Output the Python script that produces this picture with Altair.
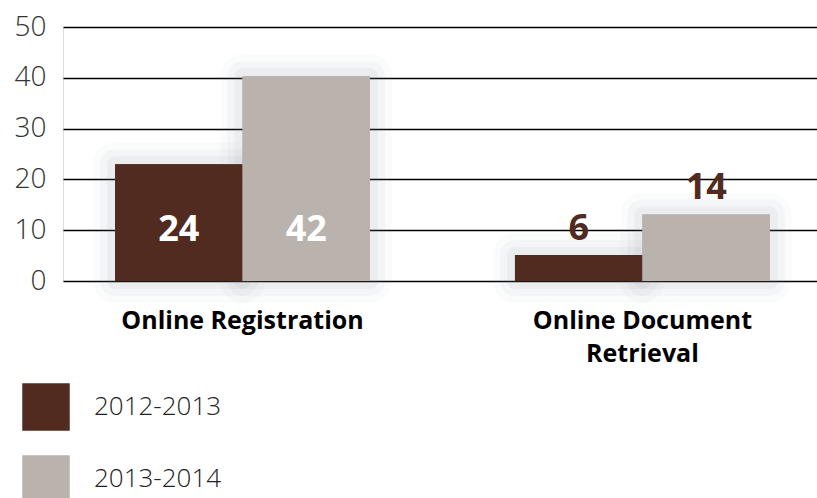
import altair as alt
import pandas as pd

categories = ["Online Registration", "Online Document Retrieval"]
periods = ["2012-2013", "2013-2014"]
values_2012 = [23.0, 5.1]
values_2013 = [40.3, 13.1]
labels_2012 = ["24", "6"]
labels_2013 = ["42", "14"]
colors = ["#512b1f", "#bab2ad"]

rows = []
for i, c in enumerate(categories):
    rows.append({"category": c, "period": periods[0], "value": values_2012[i], "label": labels_2012[i]})
    rows.append({"category": c, "period": periods[1], "value": values_2013[i], "label": labels_2013[i]})
df = pd.DataFrame(rows)

FONT = "Open Sans"

x_scale = alt.Scale(paddingInner=0.3625, paddingOuter=0.124, align=0.525)
x_enc = alt.X(
    "category:N",
    sort=categories,
    scale=x_scale,
    axis=alt.Axis(
        title=None,
        labelAngle=0,
        domain=False,
        ticks=False,
        labelFont=FONT,
        labelFontWeight="bold",
        labelFontSize=25,
        labelColor="#000000",
        labelPadding=27,
        labelLineHeight=33,
        labelBaseline="top",
        labelLimit=0,
        labelExpr="datum.label == 'Online Document Retrieval' ? ['Online Document', 'Retrieval'] : datum.label",
    ),
)
xoff = alt.XOffset("period:N", sort=periods, scale=alt.Scale(paddingInner=0, paddingOuter=0))
x_plain = alt.X("category:N", sort=categories)

y_enc = alt.Y(
    "value:Q",
    scale=alt.Scale(domain=[0, 50], nice=False),
    axis=alt.Axis(
        title=None,
        values=[0, 10, 20, 30, 40, 50],
        domain=False,
        ticks=False,
        grid=True,
        gridColor="#000000",
        gridWidth=1.3,
        labelFont=FONT,
        labelFontWeight=300,
        labelFontSize=28,
        labelColor="#333333",
        labelPadding=17,
    ),
)

base = alt.Chart(df)

halos = [
    base.mark_bar(fillOpacity=0, stroke="#8a8f96", strokeOpacity=op, strokeWidth=w, strokeJoin="round").encode(
        x=x_plain, xOffset=xoff, y=alt.Y("value:Q")
    )
    for w, op in [(44, 0.04), (30, 0.05), (16, 0.07)]
]

bars = base.mark_bar(opacity=1).encode(
    x=x_enc,
    xOffset=xoff,
    y=y_enc,
    color=alt.Color(
        "period:N",
        sort=periods,
        scale=alt.Scale(domain=periods, range=colors),
        legend=alt.Legend(
            title=None,
            orient="none",
            legendX=-41,
            legendY=356,
            direction="vertical",
            symbolType="square",
            symbolSize=2256,
            symbolStrokeWidth=0,
            symbolOpacity=1,
            rowPadding=24,
            labelOffset=24,
            labelFont=FONT,
            labelFontWeight=300,
            labelFontSize=26,
            labelColor="#222222",
            padding=0,
        ),
    ),
)

inside = base.transform_filter("datum.value > 20").mark_text(
    font=FONT, fontWeight="bold", fontSize=36, color="white", baseline="middle"
).encode(
    x=x_plain,
    xOffset=xoff,
    y=alt.datum(10),
    text="label:N",
)

outside = base.transform_filter("datum.value <= 20").mark_text(
    font=FONT, fontWeight="bold", fontSize=36, color="#512b1f", baseline="alphabetic", dy=-15
).encode(
    x=x_plain,
    xOffset=xoff,
    y="value:Q",
    text="label:N",
)

chart = alt.layer(bars, *halos, bars, inside, outside).properties(
    width=754,
    height=254,
    autosize=alt.AutoSizeParams(type="none"),
    padding={"left": 63, "top": 27, "right": 0, "bottom": 217},
).configure_view(stroke=None).configure(background="white")

chart.save("out.html", embed_options={"renderer": "svg", "actions": False})
